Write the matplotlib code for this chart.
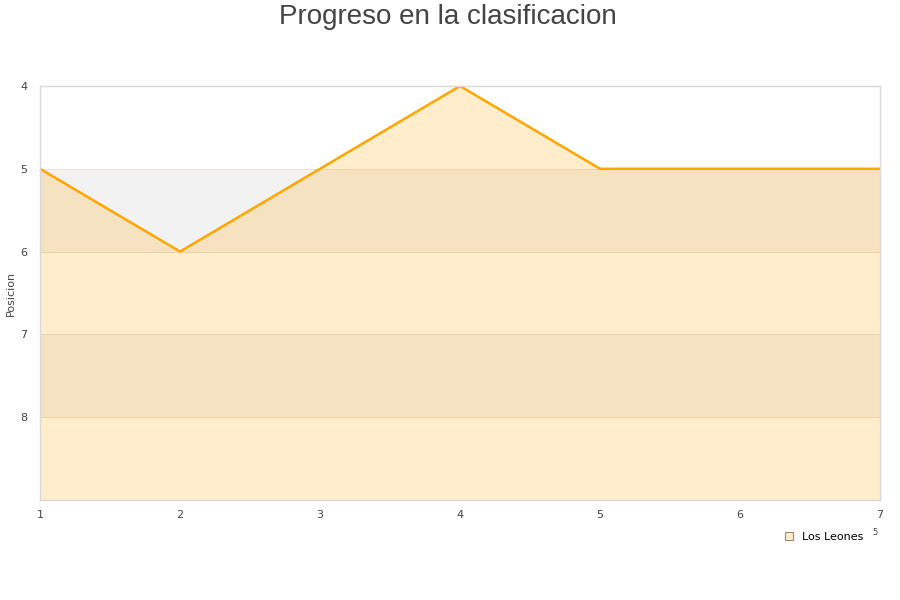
import matplotlib.pyplot as plt
from matplotlib.patches import Patch

jornadas = [1, 2, 3, 4, 5, 6, 7]
posicion = [5, 6, 5, 4, 5, 5, 5]
equipo = "Los Leones"

fig = plt.figure(figsize=(9, 6), dpi=100)
ax = fig.add_axes([40 / 900, 100 / 600, 840 / 900, 414 / 600])

# alternating bands
for lo in [5, 7]:
    ax.axhspan(lo, lo + 1, color="#f2f2f2", zorder=0, lw=0)
for y in [5, 6, 7, 8]:
    ax.axhline(y, color="#e8e0d0", lw=0.7, zorder=0.5)

ax.fill_between(jornadas, posicion, 9, color="#ffa500", alpha=0.2, lw=0, zorder=1)
ax.plot(jornadas, posicion, color="#ffa500", lw=1.8, zorder=2)

ax.set_xlim(1, 7)
ax.set_ylim(9, 4)
ax.set_yticks([4, 5, 6, 7, 8])
ax.set_xticks(jornadas)
ax.tick_params(length=0, labelsize=8, colors="#444444")
ax.tick_params(axis="x", pad=7)
ax.tick_params(axis="y", pad=9)
for s in ax.spines.values():
    s.set_color("#d9d9d9")
    s.set_linewidth(1)
fig.text(11 / 900, 1 - 293 / 600, "Posicion", rotation=90, fontsize=8,
         color="#444444", ha="center", va="center")

fig.text(0.498, 0.972, "Progreso en la clasificacion", ha="center", va="center",
         fontsize=20, color="#444444", family="Liberation Sans")

handle = Patch(facecolor="#ffedcc", edgecolor="#9a8a6a", lw=0.8)
fig.legend([handle], [equipo], loc="center right", bbox_to_anchor=(0.97, 0.105),
           frameon=False, fontsize=8, handlelength=0.7, handleheight=0.7,
           handletextpad=0.8)
fig.text(0.972, 0.113, "5", fontsize=6, color="#444444", ha="center", va="center")

fig.savefig("out.png", dpi=100)
